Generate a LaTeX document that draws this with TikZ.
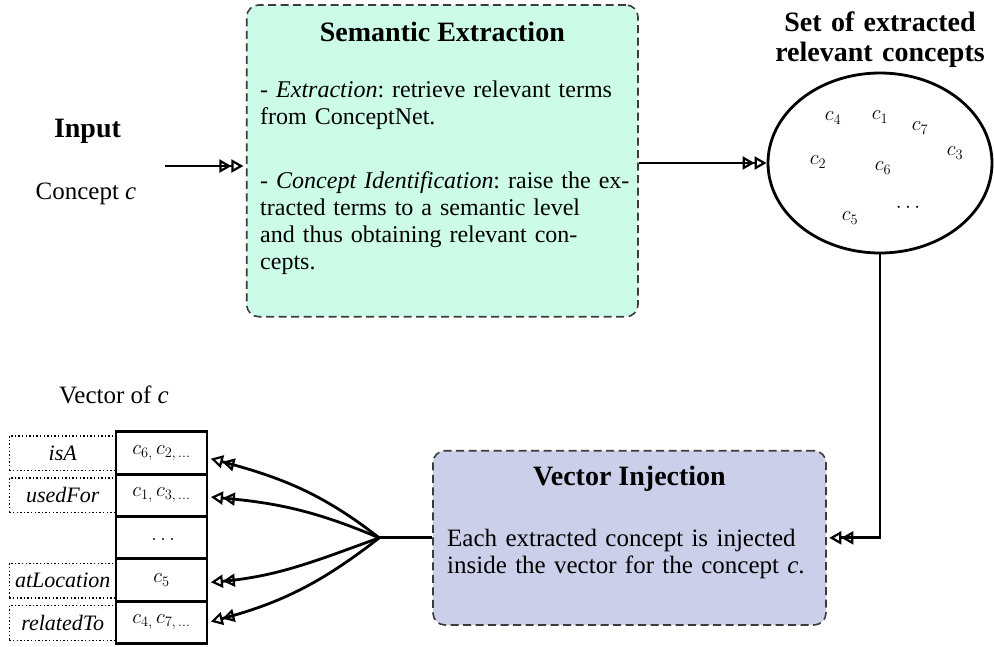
\documentclass[tikz,border=0pt]{standalone}
\usepackage{fontspec}
\setmainfont{Liberation Serif}
\usetikzlibrary{arrows.meta,shapes.geometric,calc}

\definecolor{mint}{HTML}{CCFCE8}
\definecolor{lavender}{HTML}{CCCFEA}
\definecolor{edgegray}{HTML}{3C3C3C}

\frenchspacing

\tikzset{
  stage/.style={draw=edgegray, line width=1.6pt, dash pattern=on 8pt off 4.5pt,
    rounded corners=12pt, inner sep=0pt},
  heading/.style={font=\fontsize{28}{30}\selectfont\bfseries, anchor=base, inner sep=0pt},
  body/.style={font=\fontsize{24}{27}\selectfont, anchor=base west, inner sep=0pt,
    text width=430pt, align=left},
  plaintext/.style={font=\fontsize{25}{27}\selectfont, anchor=base, inner sep=0pt},
  dtip/.style={Triangle[open,length=12pt,width=13pt,line width=2.2pt]},
  conn/.style={line width=2.8pt, -{Triangle[open,length=12pt,width=13pt,line width=2.2pt]
    Triangle[open,length=12pt,width=13pt,line width=2.2pt]},
    shorten >=2.5pt},
  wire/.style={line width=2.8pt},
  cell/.style={draw, line width=2.8pt, minimum width=91pt, minimum height=42.3pt,
    inner sep=0pt, font=\fontsize{21}{24}\selectfont},
  tag/.style={draw, line width=1.3pt, dash pattern=on 1.4pt off 2.2pt,
    minimum width=106.7pt, minimum height=34.7pt, inner sep=0pt,
    font=\fontsize{22}{24}\selectfont\itshape},
  concept/.style={font=\fontsize{21}{24}\selectfont, inner sep=0pt},
}

\begin{document}
\begin{tikzpicture}[x=1pt,y=-1pt]
\useasboundingbox (0,0) rectangle (994,646);

% --- Semantic extraction stage
\node[stage, fill=mint, minimum width=391.3pt, minimum height=311.7pt] (SE) at (442.35,160.85) {};
\node[heading] (SEt) at (442.35,41) {Semantic Extraction};
\node[body] (SEa) at (260,97.3) {- \textit{Extraction}: retrieve relevant terms\\from ConceptNet.};
\node[body] (SEb) at (260,188.3) {- \textit{Concept Identification}: raise the ex-\\tracted terms to a semantic level\\and thus obtaining relevant con-\\cepts.};

% --- Input
\node[heading] (inT) at (87.5,137) {Input};
\node[plaintext] (inC) at (86,199.5) {Concept \textit{c}};
\coordinate (inA) at (165,166);
\draw[conn] (inA) -- (inA -| SE.west);

% --- Set of extracted concepts
\node[draw, ellipse, line width=2.8pt, minimum width=224pt, minimum height=180pt, inner sep=0pt] (EL) at (880,163) {};
\node[heading, text width=260pt, align=center] (ELt) at (880,31.7) {Set of extracted\\relevant concepts};
\node[concept] (k4) at (833,118) {$c_4$};
\node[concept] (k1) at (880,117) {$c_1$};
\node[concept] (k7) at (920,128) {$c_7$};
\node[concept] (k3) at (955,153) {$c_3$};
\node[concept] (k2) at (818,162) {$c_2$};
\node[concept] (k6) at (883,168) {$c_6$};
\node[concept] (k5) at (850,218) {$c_5$};
\node[concept] (kd) at (908,208) {$\cdots$};
\draw[conn, shorten >=0pt] (SE.east |- EL.west) -- (EL.west);

% --- Vector injection stage
\node[stage, fill=lavender, minimum width=393pt, minimum height=174.3pt] (VI) at (629.5,537.85) {};
\node[heading] (VIt) at (629.5,485) {Vector Injection};
\node[body, font=\fontsize{25}{27}\selectfont] (VIa) at (447,546.7) {Each extracted concept is injected\\inside the vector for the concept \textit{c}.};
\draw[conn] (EL.south) |- (VI.east);

% --- Vector of c
\node[plaintext] (vecT) at (114,403) {Vector of \textit{c}};
\node[cell] (v1) at (161.5,453) {$\vphantom{c_5}c_{6,}\,c_{2,\,\ldots}$};
\node[cell] (v2) at (161.5,495.3) {$\vphantom{c_5}c_{1,}\,c_{3,\,\ldots}$};
\node[cell] (v3) at (161.5,537.6) {$\vphantom{c_5}\ldots$};
\node[cell] (v4) at (161.5,580) {$\vphantom{c_5}c_5$};
\node[cell] (v5) at (161.5,622.3) {$\vphantom{c_5}c_{4,}\,c_{7,\,\ldots}$};
\node[tag] (l1) at (62.7,453.3) {isA};
\node[tag] (l2) at (62.7,495.3) {usedFor};
\node[tag] (l4) at (62.7,580.5) {atLocation};
\node[tag] (l5) at (62.7,622.8) {relatedTo};

% --- Fan-out from the injection stage into the vector
\coordinate (fork) at ([xshift=-53pt]VI.west);
\draw[wire] (VI.west) -- (fork);
\draw[conn] (fork) to[out=142,in=-15] ([yshift=-5pt]v1.east);
\draw[conn] (fork) to[out=157,in=-5] ([yshift=-1.5pt]v2.east);
\draw[conn] (fork) to[out=200,in=5] ([yshift=-2.5pt]v4.east);
\draw[conn] (fork) to[out=218,in=15] (v5.east);
\end{tikzpicture}
\end{document}
